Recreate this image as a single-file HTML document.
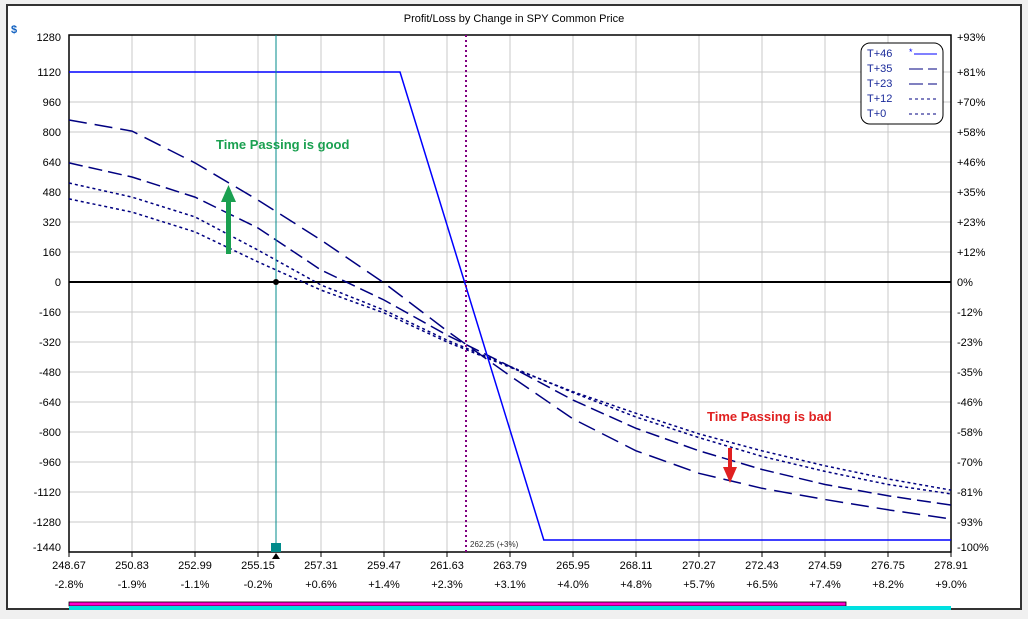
<!DOCTYPE html>
<html><head><meta charset="utf-8"><style>
body{margin:0;background:#f0f0f0;}
svg{display:block;font-family:"Liberation Sans",sans-serif;}
</style></head><body>
<svg width="1028" height="619">
<rect x="0" y="0" width="1028" height="619" fill="#f0f0f0"/>
<rect x="7" y="5" width="1014" height="604" fill="#fff" stroke="#333" stroke-width="2"/>
<text x="514" y="22" font-size="11" text-anchor="middle">Profit/Loss by Change in SPY Common Price</text>
<text x="11" y="33" font-size="11" fill="#1060c0" font-weight="bold">$</text>
<g id="grid"></g>
<g id="axes"></g>
<g id="series"></g>
<line x1="276" y1="35" x2="276" y2="552" stroke="#008b8b" stroke-width="1"/>
<line x1="466" y1="35" x2="466" y2="552" stroke="#800080" stroke-width="2" stroke-dasharray="2,3"/>
<text x="470" y="547" font-size="8" fill="#333">262.25 (+3%)</text>
<circle cx="276" cy="282" r="3" fill="#000"/>
<rect x="271" y="543" width="10" height="9" fill="#008b8b"/>
<polygon points="276,553 272,559 280,559" fill="#000"/>
<g><rect x="226" y="200" width="5" height="54" fill="#1aa050"/><polygon points="221,202 236,202 228.5,185" fill="#1aa050"/></g>
<text x="216" y="149" font-size="13" font-weight="bold" fill="#1aa050">Time Passing is good</text>
<g><rect x="728" y="448" width="4" height="22" fill="#e02020"/><polygon points="723,467 737,467 730,483" fill="#e02020"/></g>
<text x="707" y="421" font-size="13" font-weight="bold" fill="#e02020">Time Passing is bad</text>
<g>
<rect x="861" y="43" width="82" height="81" rx="9" fill="#fff" stroke="#000"/>
<g font-size="11" fill="#1a2a9a">
<text x="867" y="57">T+46</text><text x="867" y="72">T+35</text><text x="867" y="87">T+23</text><text x="867" y="102">T+12</text><text x="867" y="117">T+0</text></g>
<text x="909" y="55" font-size="9" fill="#0000ff">*</text>
<line x1="914" y1="54" x2="937" y2="54" stroke="#0000ff"/>
<line x1="909" y1="69" x2="937" y2="69" stroke="#000080" stroke-dasharray="14,5"/>
<line x1="909" y1="84" x2="937" y2="84" stroke="#000080" stroke-dasharray="14,5"/>
<line x1="909" y1="99" x2="937" y2="99" stroke="#000080" stroke-dasharray="3,3"/>
<line x1="909" y1="114" x2="937" y2="114" stroke="#000080" stroke-dasharray="3,3"/>
</g>
<rect x="69" y="602" width="777" height="4" fill="#ff00cc" stroke="#000" stroke-width="0.8"/>
<rect x="69" y="606" width="882" height="4" fill="#00e0e0"/>
</svg>
<script>
const priceTicks=["248.67","250.83","252.99","255.15","257.31","259.47","261.63","263.79","265.95","268.11","270.27","272.43","274.59","276.75","278.91"];
const pctTicks=["-2.8%","-1.9%","-1.1%","-0.2%","+0.6%","+1.4%","+2.3%","+3.1%","+4.0%","+4.8%","+5.7%","+6.5%","+7.4%","+8.2%","+9.0%"];
const yTicks=[1280,1120,960,800,640,480,320,160,0,-160,-320,-480,-640,-800,-960,-1120,-1280,-1440];
const rightTicks=["+93%","+81%","+70%","+58%","+46%","+35%","+23%","+12%","0%","-12%","-23%","-35%","-46%","-58%","-70%","-81%","-93%","-100%"];
const prices=[248.67,250.83,252.99,255.15,257.31,259.47,261.63,263.79,265.95,268.11,270.27,272.43,274.59,276.75,278.91];
const t46Prices=[248.67,260.02,264.95,278.91];
const t46=[1120,1120,-1376,-1376];
const t35=[864,805,635,437,224,-5,-260,-500,-730,-900,-1020,-1100,-1160,-1215,-1264];
const t23=[635,560,453,288,64,-96,-283,-450,-630,-780,-900,-1000,-1080,-1140,-1190];
const t12=[528,453,347,170,-16,-150,-310,-450,-590,-720,-830,-930,-1010,-1080,-1130];
const t0=[443,373,267,107,-43,-165,-320,-455,-585,-700,-810,-900,-980,-1050,-1110];
const NS="http://www.w3.org/2000/svg";
const X0=69,X1=951,P0=248.67,P1=278.91;
const xs=p=>X0+(p-P0)/(P1-P0)*(X1-X0);
const ys=v=>282-v/160*30;
function mk(tag,attrs,parent,txt){const e=document.createElementNS(NS,tag);for(const k in attrs)e.setAttribute(k,attrs[k]);if(txt!==undefined)e.textContent=txt;parent.appendChild(e);return e;}
const grid=document.getElementById('grid'),axes=document.getElementById('axes'),ser=document.getElementById('series');
prices.forEach((p,i)=>{
 const g=mk('line',{x1:xs(p),x2:xs(p),y1:35,y2:552,stroke:'#c8c8c8'},grid);
 
 
 const tk=mk('line',{x1:xs(p),x2:xs(p),y1:552,y2:557,stroke:'#000'},axes);
 
 
 const t=mk('text',{x:xs(p),y:569,'font-size':11,'text-anchor':'middle'},axes,priceTicks[i]);
 
 
 const t2=mk('text',{x:xs(p),y:588,'font-size':11,'text-anchor':'middle'},axes,pctTicks[i]);
 
 
});
yTicks.forEach((v,i)=>{
 const y=ys(v);
 if(v!==1280&&v!==-1440){const g=mk('line',{x1:X0,x2:X1,y1:y,y2:y,stroke:'#c8c8c8'},grid);
 
 }
 const ly=v===1280?41:(v===-1440?551:y+4);
 const t=mk('text',{x:61,y:ly,'font-size':11,'text-anchor':'end'},axes,String(v));
 
 
 const r=mk('text',{x:957,y:ly,'font-size':11},axes,rightTicks[i]);
 
 
});
const fr=mk('rect',{x:X0,y:35,width:X1-X0,height:517,fill:'none',stroke:'#000','stroke-width':1.5},axes);


const zl=mk('line',{x1:X0,x2:X1,y1:ys(0),y2:ys(0),stroke:'#000','stroke-width':2},axes);


function line(px,vals,name,dash,color){
 const pts=vals.map((v,i)=>xs(px[i]).toFixed(1)+','+ys(v).toFixed(1)).join(' ');
 const e=mk('polyline',{points:pts,fill:'none',stroke:color,'stroke-width':1.5},ser);
 if(dash)e.setAttribute('stroke-dasharray',dash);
 
 
}
line(prices,t0,'series-t0','3,3','#000080');
line(prices,t12,'series-t12','3,3','#000080');
line(prices,t23,'series-t23','14,6','#000080');
line(prices,t35,'series-t35','18,8','#000080');
line(t46Prices,t46,'series-t46',null,'#0000ff');
</script>
</body></html>
